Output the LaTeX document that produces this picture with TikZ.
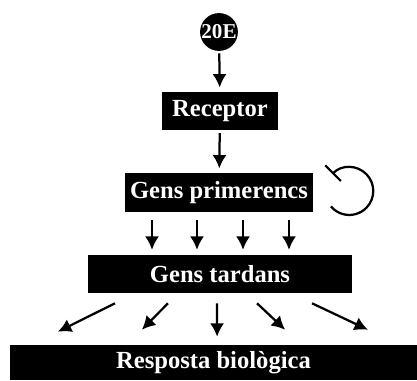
\documentclass[tikz,border=0pt]{standalone}
\usepackage{fontspec}
\setmainfont{Liberation Serif}
\usetikzlibrary{arrows.meta}
\begin{document}
\begin{tikzpicture}[box/.style={fill=black, text=white, font=\fontsize{17.5}{20}\selectfont\bfseries, inner sep=0pt, minimum height=0.95cm}, arr/.style={line width=1.6pt, -{Latex[length=9.5pt, width=10pt]}}]
		\useasboundingbox(0, 0) rectangle (10.425, -9.5);
		\node[circle, fill=black, text=white, inner sep=0pt, minimum size=0.9cm, font=\fontsize{15}{17}\selectfont\bfseries](hormona)at(5.475, -0.8){20E};
		\node[box, minimum width=2.9cm](receptor)at(5.5, -2.775){Receptor};
		\node[box, minimum width=4.7cm, minimum height=0.975cm](primerencs)at(5.475, -4.81){Gens primerencs};
		\node[box, minimum width=6.6cm](tardans)at(5.5, -6.85){Gens tardans};
		\node[box, minimum width=10.175cm, minimum height=0.875cm](resposta)at(5.3375, -9.0625){Resposta biològica};
		\draw[arr, shorten <=1.5pt, shorten >=3pt](hormona)--(receptor);
		\draw[arr, shorten <=2pt, shorten >=3pt](receptor)--(primerencs);
		\foreach \dx in {-1.675, -0.55, 0.6, 1.75}
			\draw[arr, shorten <=5.5pt, shorten >=3.5pt]([xshift=\dx cm]primerencs.south)--([xshift=\dx cm]primerencs.south |- tardans.north);
		\foreach \a/\b/\c in {-2.625/-3.89/0.325, -1.3/-1.79/0.375, -0.075/0.09/0.2, 0.925/1.79/0.375, 2.3/3.86/0.375}
			\draw[arr]([xshift=\a cm, yshift=-0.25cm]tardans.south)--([xshift=\b cm, yshift=\c cm]resposta.north);
		\draw[line width=1.6pt, {Bar[width=0.55cm]}-]([xshift=0.475cm, yshift=0.46cm]primerencs.east)arc[start angle=135, end angle=-140, radius=0.6cm];
	\end{tikzpicture}
\end{document}
